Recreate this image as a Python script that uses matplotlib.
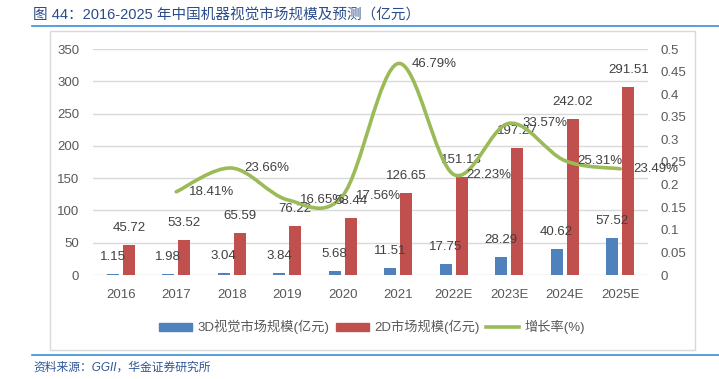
import numpy as np
import matplotlib
matplotlib.use("Agg")
import matplotlib.pyplot as plt
from matplotlib.path import Path
from matplotlib.patches import PathPatch, Rectangle
from matplotlib.lines import Line2D

plt.rcParams['font.family'] = ['Liberation Sans', 'Noto Sans CJK SC', 'DejaVu Sans']

categories = ['2016', '2017', '2018', '2019', '2020', '2021', '2022E', '2023E', '2024E', '2025E']
vision_3d = [1.15, 1.98, 3.04, 3.84, 5.68, 11.51, 17.75, 28.29, 40.62, 57.52]
market_2d = [45.72, 53.52, 65.59, 76.22, 88.44, 126.65, 151.13, 197.27, 242.02, 291.51]
growth = [None, 0.1841, 0.2366, 0.1665, 0.1756, 0.4679, 0.2223, 0.3357, 0.2531, 0.2349]
growth_labels = ['', '18.41%', '23.66%', '16.65%', '17.56%', '46.79%', '22.23%', '33.57%', '25.31%', '23.49%']
left_ticks = [0, 50, 100, 150, 200, 250, 300, 350]
right_ticks = [0, 0.05, 0.1, 0.15, 0.2, 0.25, 0.3, 0.35, 0.4, 0.45, 0.5]
right_ticklabels = ['0', '0.05', '0.1', '0.15', '0.2', '0.25', '0.3', '0.35', '0.4', '0.45', '0.5']

W, H = 719, 379
fig = plt.figure(figsize=(W / 100, H / 100), dpi=100)

def fx(px):
    return px / W

def fy(py):
    return 1 - py / H

# frame and decorative lines
fig.patches.append(Rectangle((fx(50), fy(350)), fx(695) - fx(50), fy(31) - fy(350),
                             transform=fig.transFigure, facecolor='none',
                             edgecolor='#d9d9d9', lw=1.0, zorder=-1))
fig.lines.append(Line2D([fx(32), fx(719)], [fy(26), fy(26)], transform=fig.transFigure,
                        color='#3a8fd8', lw=1.2))
fig.lines.append(Line2D([fx(32), fx(719)], [fy(355), fy(355)], transform=fig.transFigure,
                        color='#3a8fd8', lw=1.2))

fig.text(fx(33), fy(16), '图 44：2016-2025 年中国机器视觉市场规模及预测（亿元）',
         fontsize=10.5, color='#2b4c8c', ha='left', va='center',
         family=['Liberation Sans', 'Noto Sans CJK SC'])
fig.text(fx(33), fy(368), '资料来源：GGII，华金证券研究所', fontsize=8.5, color='#2f5597',
         ha='left', va='center', style='italic',
         family=['Liberation Sans', 'Noto Sans CJK SC'])

ax = fig.add_axes([fx(93), fy(275), fx(648) - fx(93), fy(49) - fy(275)])
ax.set_facecolor('none')
x = np.arange(len(categories))
bw = 0.22
off = 0.145
ax.bar(x - off, vision_3d, bw, color='#4f81bd', zorder=3, label='3D视觉市场规模(亿元)')
ax.bar(x + off, market_2d, bw, color='#c0504d', zorder=3, label='2D市场规模(亿元)')
ax.set_xlim(-0.5, len(categories) - 0.5)
ax.set_ylim(0, 350)
ax.set_yticks(left_ticks)
ax.set_xticks(x)
ax.set_xticklabels(categories)
ax.grid(axis='y', color='#d9d9d9', lw=1.0, zorder=0)
for s in ax.spines.values():
    s.set_visible(False)
ax.tick_params(axis='both', length=0, labelsize=9.5, colors='#595959')
ax.tick_params(axis='x', pad=10)
ax.tick_params(axis='y', pad=10)

lab_color = '#404040'
for i in range(len(categories)):
    ax.annotate(f'{vision_3d[i]:.2f}', (x[i] - off, vision_3d[i]), xytext=(0, 17),
                textcoords='offset pixels', ha='center', va='center', fontsize=9.5,
                color=lab_color, zorder=5)
    ax.annotate(f'{market_2d[i]:.2f}', (x[i] + off, market_2d[i]), xytext=(0, 17),
                textcoords='offset pixels', ha='center', va='center', fontsize=9.5,
                color=lab_color, zorder=5)

ax2 = ax.twinx()
ax2.set_ylim(0, 0.5)
ax2.set_yticks(right_ticks)
ax2.set_yticklabels(right_ticklabels)
for s in ax2.spines.values():
    s.set_visible(False)
ax2.tick_params(axis='y', length=0, labelsize=9.5, colors='#595959', pad=9)

# smooth line (Catmull-Rom style bezier through the points)
gx = [x[i] for i in range(len(growth)) if growth[i] is not None]
gy = [growth[i] for i in range(len(growth)) if growth[i] is not None]
P = np.column_stack([gx, gy]).astype(float)
n = len(P)
verts = [tuple(P[0])]
codes = [Path.MOVETO]
for i in range(n - 1):
    p0 = P[i - 1] if i > 0 else P[i]
    p1 = P[i]
    p2 = P[i + 1]
    p3 = P[i + 2] if i + 2 < n else P[i + 1]
    c1 = p1 + (p2 - p0) / 6.0
    c2 = p2 - (p3 - p1) / 6.0
    verts += [tuple(c1), tuple(c2), tuple(p2)]
    codes += [Path.CURVE4] * 3
ax2.add_patch(PathPatch(Path(verts, codes), facecolor='none', edgecolor='#9bbb59',
                        lw=2.6, capstyle='round', joinstyle='round', zorder=4))
for i in range(len(growth)):
    if growth[i] is None:
        continue
    ax2.annotate(growth_labels[i], (x[i], growth[i]), xytext=(13, 0),
                 textcoords='offset pixels', ha='left', va='center', fontsize=9.5,
                 color=lab_color, zorder=6)

handles = [Rectangle((0, 0), 1, 1, color='#4f81bd'),
           Rectangle((0, 0), 1, 1, color='#c0504d'),
           Line2D([], [], color='#9bbb59', lw=2.6)]
labels = ['3D视觉市场规模(亿元)', '2D市场规模(亿元)', '增长率(%)']
fig.legend(handles, labels, loc='center', bbox_to_anchor=(fx(372), fy(327)), ncol=3,
           frameon=False, fontsize=9.5, handlelength=2.5, handleheight=0.55,
           handletextpad=0.4, columnspacing=0.5, labelcolor='#595959')

fig.savefig('out.png', dpi=100)
